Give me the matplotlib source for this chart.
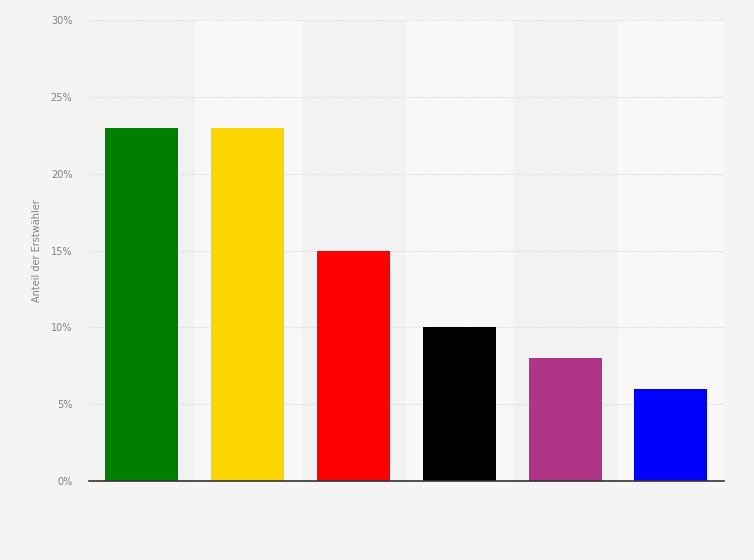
import matplotlib.pyplot as plt
from matplotlib.ticker import FuncFormatter

parties = ["Grüne", "FDP", "SPD", "CDU/CSU", "Die Linke", "AfD"]
shares = [23, 23, 15, 10, 8, 6]
colors = ["#007e00", "#fbd600", "#fe0000", "#000000", "#b03586", "#0000fe"]


def main():
    fig = plt.figure(figsize=(7.54, 5.6), dpi=100, facecolor="#f4f4f4")
    ax = fig.add_axes([0.118, 0.141, 0.842, 0.823])
    ax.set_facecolor("#f2f2f2")

    x = list(range(len(parties)))
    # alternating column bands
    for i in x:
        if i % 2 == 1:
            ax.axvspan(i - 0.5, i + 0.5, color="#f8f8f8", zorder=0)

    ax.bar(x, shares, width=0.69, color=colors, zorder=3)

    ax.set_xlim(-0.5, len(parties) - 0.5)
    ax.set_ylim(0, 30)
    ax.set_yticks(range(0, 31, 5))
    ax.yaxis.set_major_formatter(FuncFormatter(lambda v, p: f"{v:.0f}%"))
    ax.set_xticks([])
    ax.grid(axis="y", color="#dcdcdc", linestyle=(0, (1, 1)), linewidth=0.8, zorder=1)
    ax.tick_params(axis="y", length=0, pad=12, labelsize=7, labelcolor="#808080")

    for side in ["top", "right", "left"]:
        ax.spines[side].set_visible(False)
    ax.spines["bottom"].set_color("#333333")
    ax.spines["bottom"].set_linewidth(1.2)
    ax.spines["bottom"].set_zorder(4)

    ax.set_ylabel("Anteil der Erstwähler", fontsize=7, color="#808080", labelpad=6)

    fig.savefig("out.png", dpi=100, facecolor=fig.get_facecolor())


if __name__ == "__main__":
    main()
